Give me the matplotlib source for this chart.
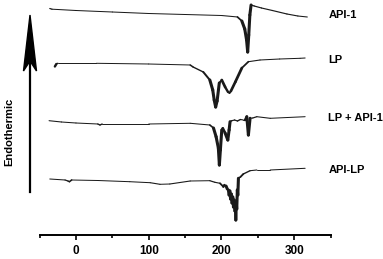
import numpy as np
import matplotlib.pyplot as plt
from matplotlib.collections import LineCollection
from matplotlib.patches import Polygon

plt.rcParams["font.family"] = ["Liberation Sans", "DejaVu Sans"]
plt.rcParams["font.weight"] = "bold"

# DSC thermograms (temperature in deg C, heat flow in arbitrary units)

labels = ["API-1", "LP", "LP + API-1", "API-LP"]

api1_temp = [-36, -33, -25, 0, 50, 100, 150, 200, 215, 222, 228, 232,
             234.5, 236, 237.5, 239, 240.7, 245, 255, 270, 290, 305, 318]
api1_flow = [1.5, 0.8, 0.5, -0.5, -2, -3.5, -4.5, -5.5, -6.5, -7, -11, -19,
             -30, -42, -25, -5, 5, 4, 2, -0.5, -4, -6, -7]

lp_temp = [-29, -27, -25, 28, 100, 157, 161, 175, 184, 188, 190, 192, 194,
           197, 200.4, 205, 209, 211, 213, 219, 228, 237, 253, 280, 308, 315]
lp_flow = [-1.5, 1, 1.7, 1.7, 1, 0, -2, -7, -15, -25, -35, -42, -36,
           -18, -15, -22, -27, -28, -26, -17, -3, 3.3, 5, 6, 6.7, 7]

mix_temp = [-37, -20, 0, 30, 33, 36, 100, 157, 184, 189, 192.6, 195.7, 197.1,
            198.5, 200.4, 201.8, 205, 208.7, 210.5, 211.8, 214.2, 218, 222,
            226, 230, 232.5, 234.8, 237, 239.3, 243, 248.6, 267, 315]
mix_flow = [-0.7, -2, -3, -4, -5, -4, -4, -3.3, -5, -8, -16.7, -28, -45,
            -30, -10, -8.3, -13, -20, -10, -1.7, -0.7, 0, -1,
            0.5, 0, 0, 3.3, -15, 1.7, 2, 3.3, 1.7, 3.3]

apilp_temp = [-36, -15, -11, -9, -6, 30, 74, 102, 115.5, 129, 157, 184, 191,
              198, 202.6, 204, 206.3, 208, 209.5, 210.5, 211.5, 212.5, 213.5,
              214.5, 215.5, 216.5, 217.5, 218.5, 219.2, 219.7, 220.2, 221,
              221.8, 222.5, 223.3, 226, 230, 239.3, 248.6, 267, 315]
apilp_flow = [1, 0, -1, -1.7, 0, -0.5, -1.7, -2.7, -4.3, -4, -1, -0.7, -2.3,
              -3.3, -6.7, -5, -6, -9, -10, -15, -11, -19, -14,
              -23, -17, -27, -20, -31, -25, -40, -22, -29,
              -10, -15, 1.7, 3, 6, 9.3, 10, 10, 11.7]

# Layout

offsets = [225, 170, 115, 55]
label_y = [220, 175, 117, 65]

curves = [
    (api1_temp, api1_flow),
    (lp_temp, lp_flow),
    (mix_temp, mix_flow),
    (apilp_temp, apilp_flow),
]

fig = plt.figure(figsize=(3.83, 2.59), dpi=100)
ax = fig.add_axes([39.6 / 383, 1 - 235 / 259, 291 / 383, 235 / 259])
ax.set_xlim(-50, 350)
ax.set_ylim(0, 235)

px_per_deg = 291 / 400

for (temp, flow), off, name, ly in zip(curves, offsets, labels, label_y):
    t = np.array(temp, dtype=float)
    y = np.array(flow, dtype=float) + off
    pts = np.column_stack([t, y]).reshape(-1, 1, 2)
    segs = np.concatenate([pts[:-1], pts[1:]], axis=1)
    # steep parts render darker / thicker like the original scan
    slope = np.abs(np.diff(y)) / (np.diff(t) * px_per_deg)
    widths = 0.7 + 1.5 * np.clip(slope / 2.5, 0, 1)
    lc = LineCollection(segs, linewidths=widths, colors="#1a1a1a",
                        capstyle="round", joinstyle="round")
    ax.add_collection(lc)
    ax.text(347, ly, name, fontsize=8, fontweight="bold",
            va="center", ha="left", clip_on=False)

for side in ["top", "right", "left"]:
    ax.spines[side].set_visible(False)
ax.spines["bottom"].set_linewidth(1.4)
ax.set_yticks([])

ax.set_xticks([0, 100, 200, 300], labels=["0", "100", "200", "300"],
              fontsize=8.5, fontweight="bold")
ax.set_xticks([-50, 50, 150, 250, 350], minor=True)
ax.tick_params(axis="x", which="major", length=3.3, width=1.2, pad=4)
ax.tick_params(axis="x", which="minor", length=1.8, width=1.2)

# Endothermic arrow
W, H = 383, 259
fig.add_artist(
    plt.Line2D([30 / W, 30 / W], [1 - 192 / H, 1 - 62 / H],
               transform=fig.transFigure, color="black", linewidth=1.6)
)
head = Polygon(
    [[30 / W, 1 - 15 / H], [36.5 / W, 1 - 71 / H], [30 / W, 1 - 61 / H],
     [23.5 / W, 1 - 71 / H]],
    closed=True, transform=fig.transFigure, color="black"
)
fig.add_artist(head)
fig.text(9 / W, 1 - 132 / H, "Endothermic", rotation=90, fontsize=8,
         fontweight="bold", ha="center", va="center")

plt.savefig("out.png", dpi=100)
plt.close()
